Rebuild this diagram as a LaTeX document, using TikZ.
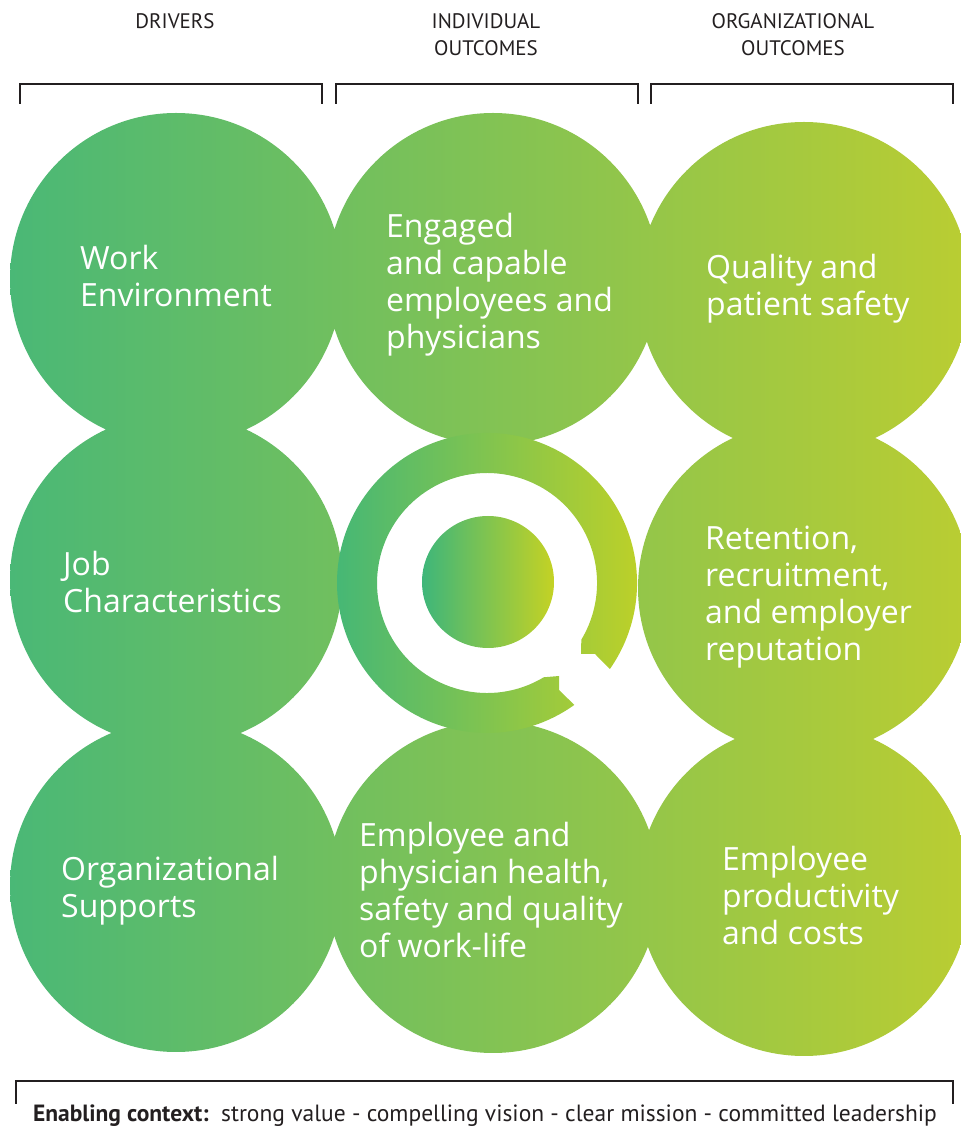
\documentclass[tikz,border=0pt]{standalone}
\usepackage{fontspec}
\setmainfont{Open Sans}
\newfontfamily\headfont{PT Sans}
\usepackage{xcolor}

\definecolor{leafL}{RGB}{74,184,118}
\definecolor{leafR}{RGB}{186,205,50}
\definecolor{ringL}{RGB}{62,182,122}
\definecolor{ringR}{RGB}{196,210,36}
\definecolor{ink}{RGB}{35,31,32}

\begin{document}
\begin{tikzpicture}[x=1pt,y=1pt,
    bubble/.style={anchor=west, inner sep=0pt, align=left, text=white,
      font=\fontsize{32}{37}\selectfont},
    heading/.style={align=center, inner sep=0pt, text=ink,
      font=\headfont\fontsize{21}{27}\selectfont},
    bracket/.style={draw=ink, line width=2.5pt}]
  \useasboundingbox (0,0) rectangle (961,1128);
  \clip (0,0) rectangle (961,1128);

  % eight circles, one shading across all of them
  \shade[left color=leafL, right color=leafR]
    (176,849) circle (166) (176,548) circle (166) (176,242) circle (166)
    (493,849) circle (166)                        (493,241) circle (166)
    (804,840) circle (166) (804,540) circle (166) (804,238) circle (166);

  % open ring and its core in the middle
  \coordinate (ring) at (487,545);
  \shade[left color=ringL, right color=ringR]
    (609.9,459) arc[start angle=-35, end angle=305.6, radius=150]
    -- (559,438) -- (559,452) -- (543.7,450.7)
    arc[start angle=301, end angle=-31, radius=110]
    -- (581,474) -- (595,474) -- cycle;
  \shade[left color=ringL, right color=ringR] (488,546) circle (66);

  % texts in the circles
  \node[bubble] (work) at (80,852) {Work\\Environment};
  \node[bubble] (engaged) at (386,843) {Engaged\\and capable\\employees and\\physicians};
  \node[bubble] (quality) at (706,839) {Quality and\\patient safety};
  \node[bubble] (job) at (63,546) {Job\\Characteristics};
  \node[bubble] (retention) at (705,531) {Retention,\\recruitment,\\and employer\\reputation};
  \node[bubble] (supports) at (61,237.5) {Organizational\\Supports};
  \node[bubble] (health) at (359,238) {Employee and\\physician health,\\safety and quality\\of work-life};
  \node[bubble] (productivity) at (722,232) {Employee\\productivity\\and costs};

  % column headings and brackets
  \node[heading] (drivers) at (175,1107) {DRIVERS};
  \node[heading] (individual) at (486,1093.5) {INDIVIDUAL\\OUTCOMES};
  \node[heading] (organizational) at (793,1093.5) {ORGANIZATIONAL\\OUTCOMES};
  \foreach \l/\r in {20/322, 336/638, 651/953}
    \draw[bracket] (\l,1024) -- (\l,1044) -- (\r,1044) -- (\r,1024);

  % enabling context along the bottom
  \draw[bracket] (16,24) -- (16,47) -- (953,47) -- (953,24);
  \node[heading, anchor=base, font=\headfont\fontsize{23.5}{27}\selectfont] (context) at (485,6)
    {\textbf{Enabling context:}\ \ strong value - compelling vision - clear mission - committed leadership};
\end{tikzpicture}
\end{document}
